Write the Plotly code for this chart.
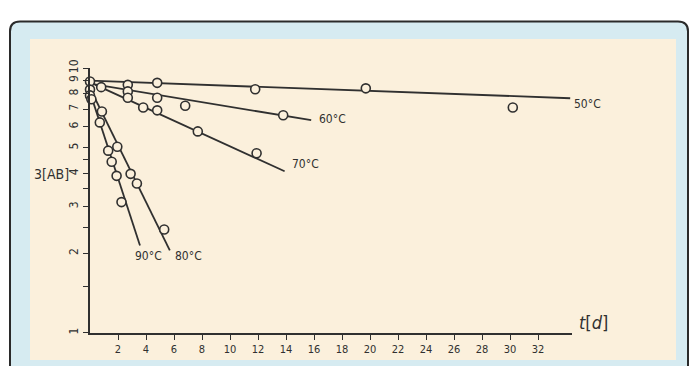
import math
import plotly.graph_objects as go

# ---- data ----
t50 = [0, 4.8, 11.8, 19.7, 30.2]
v50 = [8.9, 8.8, 8.32, 8.39, 7.1]
t60 = [0, 2.7, 4.8, 6.8, 13.8]
v60 = [8.3, 8.65, 7.73, 7.21, 6.64]
t70 = [0.8, 2.7, 2.7, 3.8, 4.8, 7.7, 11.9]
v70 = [8.48, 8.17, 7.73, 7.1, 6.93, 5.77, 4.77]
t80 = [0, 0.85, 1.95, 2.9, 3.35, 5.3]
v80 = [7.89, 6.86, 5.05, 3.99, 3.67, 2.46]
t90 = [0.1, 0.7, 1.3, 1.55, 1.9, 2.25]
v90 = [7.63, 6.24, 4.88, 4.43, 3.92, 3.12]

# fitted lines (end points)
fit_t = {"50°C": [0, 34.3], "60°C": [0, 15.8], "70°C": [0.36, 13.9],
         "80°C": [0, 5.7], "90°C": [0, 3.57]}
fit_v = {"50°C": [8.97, 7.7], "60°C": [8.75, 6.36], "70°C": [8.67, 4.08],
         "80°C": [8.4, 2.05], "90°C": [8.1, 2.14]}

# label anchors (left edge) for each temperature
lab_t = {"50°C": 34.45, "60°C": 16.2, "70°C": 14.3, "80°C": 5.9, "90°C": 3.05}
lab_v = {"50°C": 7.3, "60°C": 6.45, "70°C": 4.34, "80°C": 1.95, "90°C": 1.95}

x_ticks = list(range(2, 33, 2))
y_ticks = [1, 1.5, 2, 2.5, 3, 3.5, 4, 4.5, 5, 6, 7, 8, 9, 10]
y_ticktext = ["1", "", "2", "", "3", "", "4", "", "5", "6", "7", "8", "9", "10"]

W, H = 690, 366
INK = "#303030"
PAPER = "#fbf0dc"
BLUE = "#d6ebf1"
FONT = "DejaVu Sans Condensed, Liberation Sans Narrow, sans-serif"

fig = go.Figure()

# lines
for name in ["50°C", "60°C", "70°C", "80°C", "90°C"]:
    fig.add_trace(go.Scatter(x=fit_t[name], y=fit_v[name], mode="lines",
                             line=dict(color=INK, width=1.8),
                             showlegend=False, hoverinfo="skip"))

# points
for tt, vv in [(t50, v50), (t60, v60), (t70, v70), (t80, v80), (t90, v90)]:
    fig.add_trace(go.Scatter(x=tt, y=vv, mode="markers", cliponaxis=False,
                             marker=dict(symbol="circle", size=9, color=PAPER,
                                         line=dict(color=INK, width=1.6)),
                             showlegend=False))

# pixel geometry
x0_px, x1_px = 90, 572
y1_px, y10_px = 334, 61
px_per_day = 14.0
x_max = (x1_px - x0_px) / px_per_day

def px(x):
    return x / W

def py(y):
    return (H - y) / H

def xdata_to_paper(t):
    return px(x0_px + t * px_per_day)

shapes = []
# blue inner frame with rounded top corners
r = 10
xl, xr, yt, yb = 10, 688, 13, 400
path = (f"M {px(xl)},{py(yb)} L {px(xl)},{py(yt + r)} "
        f"Q {px(xl)},{py(yt)} {px(xl + r)},{py(yt)} "
        f"L {px(xr - r)},{py(yt)} Q {px(xr)},{py(yt)} {px(xr)},{py(yt + r)} "
        f"L {px(xr)},{py(yb)} Z")
shapes.append(dict(type="path", path=path, xref="paper", yref="paper",
                   fillcolor=BLUE, line=dict(color="#2a2a2a", width=2),
                   layer="below"))
# scanned paper
shapes.append(dict(type="rect", xref="paper", yref="paper",
                   x0=px(30), x1=px(676), y0=py(362), y1=py(31),
                   fillcolor=PAPER, line=dict(width=0), layer="below"))

annotations = []
for name in lab_t:
    # annotations on a log axis take log10 positions; labels past the
    # axis end are placed in paper x so they are not hidden
    if lab_t[name] > x_max:
        ax = dict(x=xdata_to_paper(lab_t[name]), xref="paper")
    else:
        ax = dict(x=lab_t[name], xref="x")
    annotations.append(dict(**ax, y=math.log10(lab_v[name]), yref="y",
                            text=name, showarrow=False, xanchor="left",
                            yanchor="middle",
                            font=dict(family=FONT, size=12, color=INK)))
annotations.append(dict(x=px(51), y=py(170), xref="paper", yref="paper",
                        text="3[AB]", showarrow=False, xanchor="center",
                        yanchor="middle",
                        font=dict(family=FONT, size=14, color=INK)))
annotations.append(dict(x=px(577), y=py(323), xref="paper", yref="paper",
                        text="<i>t</i>[<i>d</i>]", showarrow=False,
                        xanchor="left", yanchor="middle",
                        font=dict(family=FONT, size=18, color=INK)))

fig.update_layout(
    width=W, height=H, autosize=False,
    margin=dict(l=0, r=0, t=0, b=0),
    paper_bgcolor="white", plot_bgcolor="rgba(0,0,0,0)",
    shapes=shapes, annotations=annotations,
    xaxis=dict(domain=[px(x0_px), px(x1_px)],
               range=[0, x_max],
               tickvals=x_ticks, ticks="outside", ticklen=5, tickwidth=1.2,
               tickcolor=INK, showline=True, linecolor=INK, linewidth=1.6,
               showgrid=False, zeroline=False,
               tickfont=dict(family=FONT, size=11, color=INK)),
    yaxis=dict(type="log", domain=[py(y1_px), py(y10_px)], range=[0, 1],
               tickvals=y_ticks, ticktext=y_ticktext, tickangle=-90,
               ticks="outside", ticklen=5, tickwidth=1.2, tickcolor=INK,
               showline=True, linecolor=INK, linewidth=1.6,
               showgrid=False, zeroline=False,
               tickfont=dict(family=FONT, size=12, color=INK)),
)

post = (
    "var h=document.documentElement, b=document.body;"
    "h.style.margin='0'; h.style.padding='0';"
    "b.style.margin='0'; b.style.padding='0';"
)
fig.write_html("out.html", config={"displayModeBar": False}, post_script=post)
